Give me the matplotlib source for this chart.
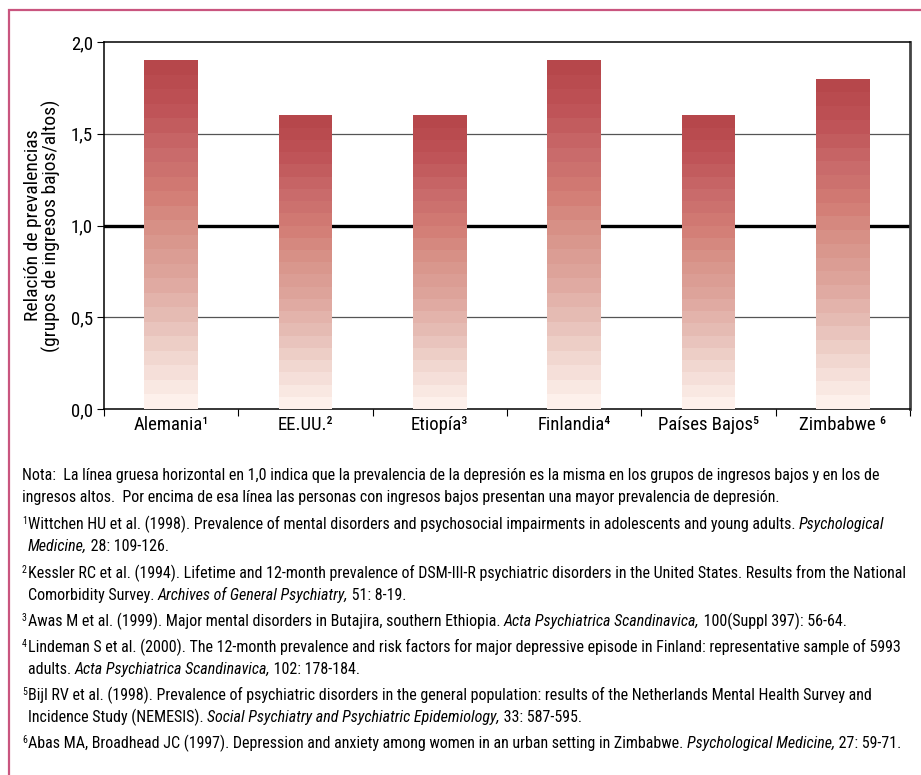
import matplotlib
matplotlib.use('Agg')
from matplotlib import pyplot as plt
from matplotlib.colors import LinearSegmentedColormap
from matplotlib.patches import Rectangle
import numpy as np

FONT = ['Roboto Condensed', 'DejaVu Sans']
plt.rcParams['font.family'] = FONT

# data
countries = ['Alemania¹', 'EE.UU.²', 'Etiopía³', 'Finlandia⁴', 'Países Bajos⁵', 'Zimbabwe ⁶']
ratios = [1.9, 1.6, 1.6, 1.9, 1.6, 1.8]
yticks = [0.0, 0.5, 1.0, 1.5, 2.0]
ytick_labels = ['0,0', '0,5', '1,0', '1,5', '2,0']

note_lines = [
    [('Nota:  La línea gruesa horizontal en 1,0 indica que la prevalencia de la depresión es la misma en los grupos de ingresos bajos y en los de', 'n')],
    [('ingresos altos.  Por encima de esa línea las personas con ingresos bajos presentan una mayor prevalencia de depresión.', 'n')],
]
refs = [
    [[('1', 's'), ('Wittchen HU et al. (1998). Prevalence of mental disorders and psychosocial impairments in adolescents and young adults. ', 'n'), ('Psychological', 'i')],
     [('Medicine,', 'i'), (' 28: 109-126.', 'n')]],
    [[('2', 's'), ('Kessler RC et al. (1994). Lifetime and 12-month prevalence of DSM-III-R psychiatric disorders in the United States. Results from the National', 'n')],
     [('Comorbidity Survey. ', 'n'), ('Archives of General Psychiatry,', 'i'), (' 51: 8-19.', 'n')]],
    [[('3', 's'), ('Awas M et al. (1999). Major mental disorders in Butajira, southern Ethiopia. ', 'n'), ('Acta Psychiatrica Scandinavica,', 'i'), (' 100(Suppl 397): 56-64.', 'n')]],
    [[('4', 's'), ('Lindeman S et al. (2000). The 12-month prevalence and risk factors for major depressive episode in Finland: representative sample of 5993', 'n')],
     [('adults. ', 'n'), ('Acta Psychiatrica Scandinavica,', 'i'), (' 102: 178-184.', 'n')]],
    [[('5', 's'), ('Bijl RV et al. (1998). Prevalence of psychiatric disorders in the general population: results of the Netherlands Mental Health Survey and', 'n')],
     [('Incidence Study (NEMESIS). ', 'n'), ('Social Psychiatry and Psychiatric Epidemiology,', 'i'), (' 33: 587-595.', 'n')]],
    [[('6', 's'), ('Abas MA, Broadhead JC (1997). Depression and anxiety among women in an urban setting in Zimbabwe. ', 'n'), ('Psychological Medicine,', 'i'), (' 27: 59-71.', 'n')]],
]

W, H = 921, 775
fig = plt.figure(figsize=(W / 100, H / 100), dpi=100)
fig.patch.set_facecolor('white')

# pink frame (only top/left visible)
fig.patches.append(Rectangle((9 / W, -0.05), 1.2, 1 - 10 / H + 0.05, transform=fig.transFigure,
                             fill=False, edgecolor='#c9557f', linewidth=1.6))

ax = fig.add_axes([104 / W, 1 - 409 / H, 806 / W, 367 / H])

grad = LinearSegmentedColormap.from_list('g', ['#fdf0eb', '#f1d8d1', '#e6bdb5', '#dea59d',
                                               '#d8948a', '#d27c74', '#c86a6a', '#bf5357', '#b6474b'])
nband = 24
x = np.arange(len(countries))
for xi, v in zip(x, ratios):
    h = v / nband
    for k in range(nband):
        ax.bar(xi, h, bottom=k * h, width=0.4, color=grad(k / (nband - 1)),
               edgecolor='none', zorder=3)

for yv in [0.5, 1.5]:
    ax.axhline(yv, color='#555555', lw=0.9, zorder=1)
ax.axhline(1.0, color='black', lw=2.4, zorder=1)

ax.set_xlim(-0.5, len(countries) - 0.5)
ax.set_ylim(0, 2.0)
ax.set_yticks(yticks)
ax.set_yticklabels(ytick_labels, fontsize=13.5)
ax.set_xticks(np.arange(len(countries) + 1) - 0.5)
ax.set_xticklabels([])
ax.set_xticks(x, minor=True)
ax.set_xticklabels(countries, minor=True, fontsize=13.5)
ax.tick_params(axis='x', which='minor', length=0, pad=5)
ax.tick_params(axis='x', which='major', length=5, direction='out')
ax.tick_params(axis='y', length=5, pad=3)
for s in ['left', 'bottom', 'top']:
    ax.spines[s].set_linewidth(1.1)
ax.spines['right'].set_linewidth(2.0)
ax.spines['right'].set_color('#444444')

ax.set_ylabel('Relación de prevalencias\n(grupos de ingresos bajos/altos)', fontsize=14,
              linespacing=1.0, labelpad=7)

# footnotes drawn as runs of normal / italic / superscript text
renderer = fig.canvas.get_renderer()

# fit the font size so the first note line spans the same width as in the reference
probe = fig.text(0, 0, note_lines[0][0][0], fontsize=12)
pw = probe.get_window_extent(renderer).width
probe.remove()
FS = 12 * 858 / pw


def draw_runs(x0, ybase, runs):
    xp = x0
    for txt, st in runs:
        if st == 's':
            t = fig.text(xp / W, 1 - (ybase - 5) / H, txt, fontsize=FS * 0.62,
                         va='baseline', ha='left')
        else:
            t = fig.text(xp / W, 1 - ybase / H, txt, fontsize=FS,
                         style='italic' if st == 'i' else 'normal',
                         va='baseline', ha='left')
        bb = t.get_window_extent(renderer)
        xp = bb.x1 + (1 if st == 's' else 0)


draw_runs(22, 480, note_lines[0])
draw_runs(22, 502, note_lines[1])
bases = [[529, 551], [578, 600], [626], [652, 674], [700, 722], [748]]
for ref, bl in zip(refs, bases):
    for i, (line, yb) in enumerate(zip(ref, bl)):
        draw_runs(22 if i == 0 else 28, yb, line)

fig.savefig('out.png', dpi=100)
